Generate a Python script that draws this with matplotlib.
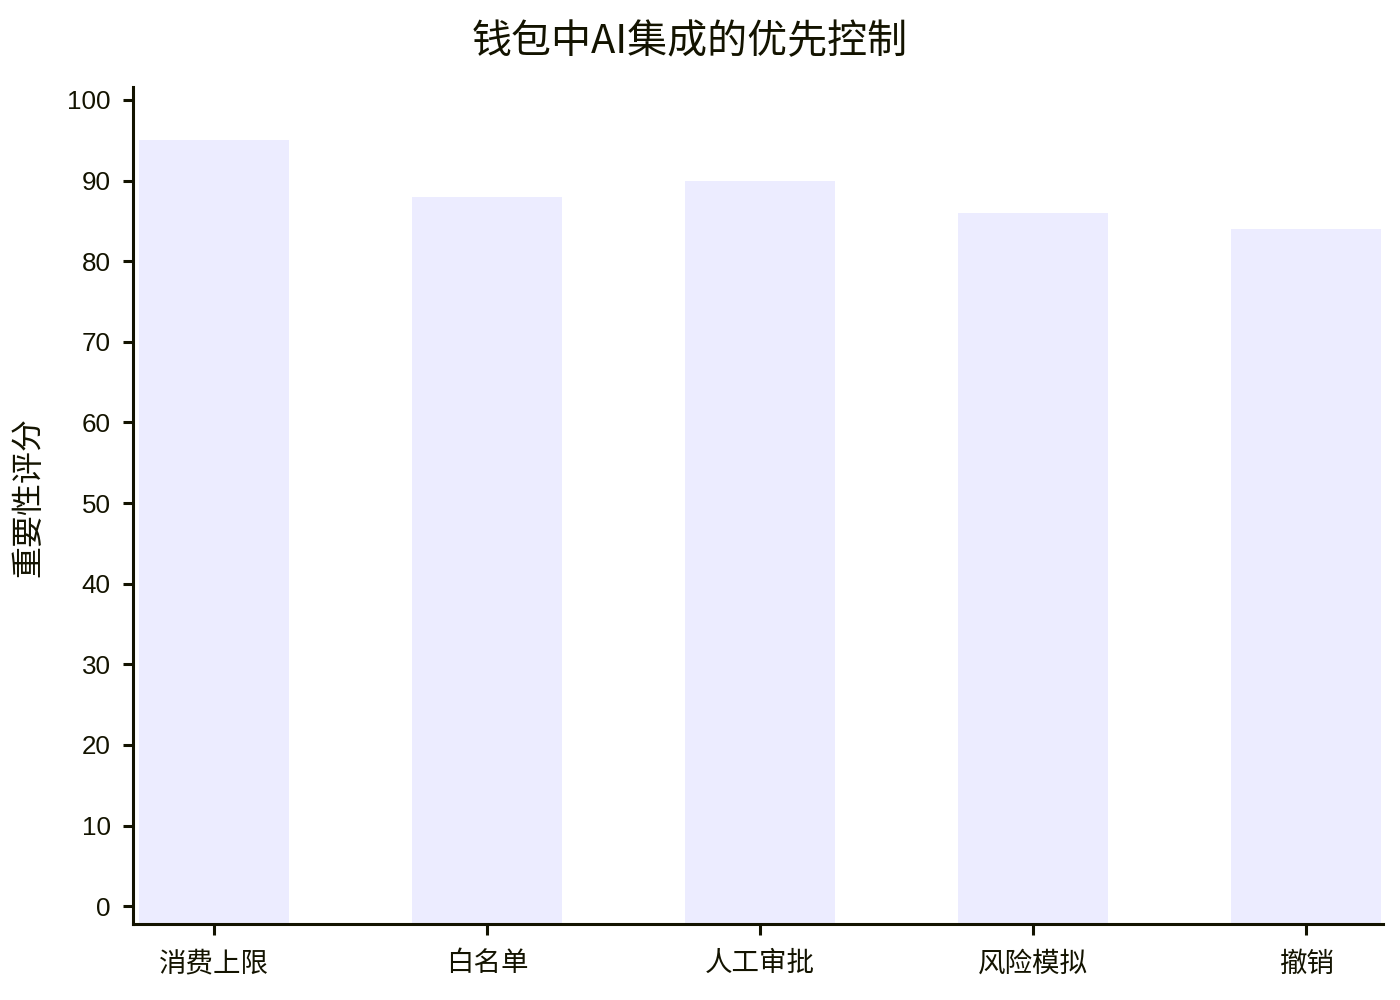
import matplotlib
matplotlib.use("Agg")
import matplotlib.pyplot as plt

plt.rcParams['font.family'] = ['Noto Sans CJK SC', 'DejaVu Sans']

title = "钱包中AI集成的优先控制"
categories = ["消费上限", "白名单", "人工审批", "风险模拟", "撤销"]
values = [95, 88, 90, 86, 84]
y_label = "重要性评分"
y_ticks = [0, 10, 20, 30, 40, 50, 60, 70, 80, 90, 100]

TEXT = "#131300"
BAR = "#ECECFF"
YMIN, YMAX = -2.2, 101.6

fig = plt.figure(figsize=(14, 10), dpi=100)
ax = fig.add_axes([0.095, 0.076, 0.893, 0.837])

x = list(range(len(categories)))
ax.bar(x, [v - YMIN for v in values], bottom=YMIN, width=0.55, color=BAR, zorder=1)

ax.set_xlim(-0.297, len(categories) - 1 + 0.282)
ax.set_ylim(YMIN, YMAX)
ax.set_xticks(x)
ax.set_xticklabels(categories, fontsize=19.8, color=TEXT)
ax.set_yticks(y_ticks)
ax.set_yticklabels([str(t) for t in y_ticks], fontsize=18.7, color=TEXT,
                   family=['Liberation Sans', 'DejaVu Sans'])

for s in ['top', 'right']:
    ax.spines[s].set_visible(False)
for s in ['left', 'bottom']:
    ax.spines[s].set_color(TEXT)
    ax.spines[s].set_linewidth(2.2)

ax.tick_params(axis='y', length=7, width=2.2, color=TEXT, pad=9)
ax.tick_params(axis='x', length=8, width=2.2, color=TEXT, pad=11)

fig.text(0.020, 0.503, y_label, fontsize=23, color=TEXT, ha='center', va='center',
         rotation=90)
fig.text(0.493, 0.958, title, fontsize=28.8, color=TEXT, ha='center', va='center')

fig.savefig("out.png", dpi=100, facecolor='white')
